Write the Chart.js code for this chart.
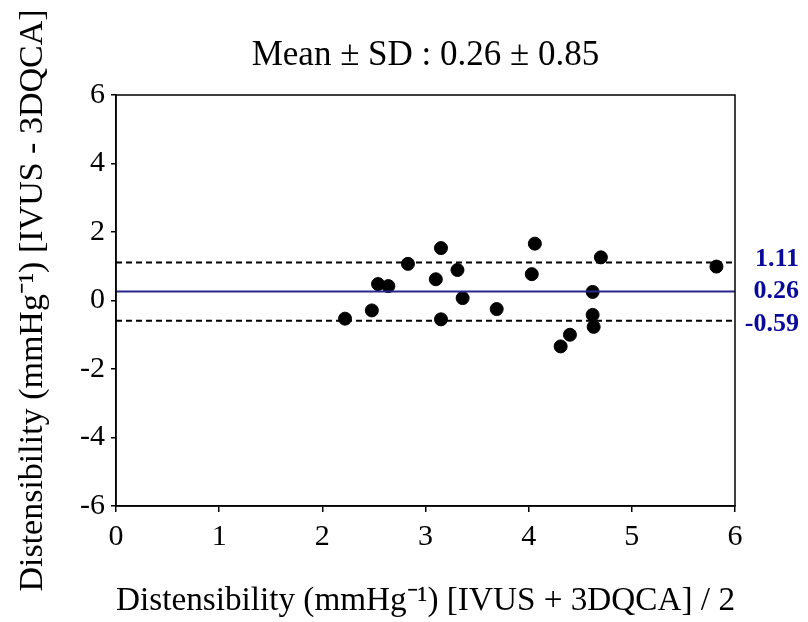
<!DOCTYPE html>
<html lang="en">
<head>
  <meta charset="UTF-8" />
  <title>Bland-Altman distensibility</title>
  <script src="https://cdn.jsdelivr.net/npm/chart.js"></script>
  <style>
    body { margin: 0; background: #fff; }
    .chart-box { width: 808px; height: 622px; }
  </style>
</head>
<body>
  <div class="chart-box"><canvas id="chartBA"></canvas></div>

  <script>
    // mean of the two methods (x) and their difference (y)
    const meanVals = [2.22, 2.48, 2.54, 2.64, 2.83, 3.10, 3.15, 3.15, 3.31, 3.36,
                      3.69, 4.03, 4.06, 4.31, 4.40, 4.62, 4.62, 4.63, 4.70, 5.82];
    const diffVals = [-0.53, -0.29, 0.48, 0.42, 1.07, 0.62, 1.53, -0.55, 0.89, 0.07,
                      -0.25, 0.77, 1.66, -1.34, -1.00, 0.25, -0.42, -0.77, 1.26, 0.99];

    const meanDiff = 0.26;
    const upperLimit = 1.11;
    const lowerLimit = -0.59;
    const limitLabels = ['1.11', '0.26', '-0.59'];

    const xRange = [0, 6];
    const yRange = [-6, 6];

    const serif = '"Liberation Serif", "Times New Roman", serif';

    function hLine(v) {
      return [{ x: xRange[0], y: v }, { x: xRange[1], y: v }];
    }

    // frame on all four sides + the numbers to the right of the lines
    const extras = {
      id: 'extras',
      afterDraw(chart) {
        const { ctx, chartArea: a, scales } = chart;
        ctx.save();
        ctx.strokeStyle = '#000';
        ctx.lineWidth = 1.5;
        ctx.strokeRect(a.left, a.top, a.right - a.left, a.bottom - a.top);

        ctx.font = 'bold 26px ' + serif;
        ctx.fillStyle = '#0a0a9a';
        ctx.textAlign = 'right';
        ctx.textBaseline = 'middle';
        const nudge = [-3, 0, 4];   // labels sit a bit apart in the original
        [upperLimit, meanDiff, lowerLimit].forEach((v, i) => {
          ctx.fillText(limitLabels[i], 799, scales.y.getPixelForValue(v) + nudge[i]);
        });
        ctx.restore();
      }
    };

    new Chart(document.getElementById('chartBA'), {
      type: 'scatter',
      data: {
        datasets: [
          {
            label: 'upper',
            type: 'line',
            data: hLine(upperLimit),
            borderColor: '#000',
            borderWidth: 2,
            borderDash: [6, 4],
            pointRadius: 0
          },
          {
            label: 'lower',
            type: 'line',
            data: hLine(lowerLimit),
            borderColor: '#000',
            borderWidth: 2,
            borderDash: [6, 4],
            pointRadius: 0
          },
          {
            label: 'mean',
            type: 'line',
            data: hLine(meanDiff),
            borderColor: '#26268c',
            borderWidth: 2,
            pointRadius: 0
          },
          {
            label: 'points',
            data: meanVals.map((x, i) => ({ x: x, y: diffVals[i] })),
            backgroundColor: '#000',
            borderColor: '#000',
            pointRadius: 6.5
          }
        ]
      },
      options: {
        responsive: true,
        maintainAspectRatio: false,
        animation: false,
        layout: { padding: { left: 0, right: 73, top: 0, bottom: 0 } },
        plugins: {
          legend: { display: false },
          tooltip: { enabled: false },
          title: {
            display: true,
            fullSize: false,
            text: 'Mean \u00b1 SD : 0.26 \u00b1 0.85',
            color: '#000',
            font: { family: serif, size: 35, weight: 'normal', lineHeight: 1.2 },
            padding: { top: 35, bottom: 18 }
          }
        },
        scales: {
          x: {
            min: xRange[0],
            max: xRange[1],
            afterFit: s => { s.height = 116; },
            ticks: {
              stepSize: 1,
              color: '#000',
              padding: 7,
              font: { family: serif, size: 30 }
            },
            grid: { drawOnChartArea: false, drawTicks: true, tickLength: 6, color: '#000', lineWidth: 1.5 },
            border: { color: '#000', width: 1.5 },
            title: {
              display: true,
              text: 'Distensibility (mmHg\u207b\u00b9) [IVUS + 3DQCA] / 2',
              color: '#000',
              font: { family: serif, size: 34, lineHeight: 1.2 },
              padding: { top: 0, bottom: 1 }
            }
          },
          y: {
            min: yRange[0],
            max: yRange[1],
            afterFit: s => { s.width = 116; },
            ticks: {
              stepSize: 2,
              color: '#000',
              padding: 6,
              font: { family: serif, size: 30 }
            },
            grid: { drawOnChartArea: false, drawTicks: true, tickLength: 5, color: '#000', lineWidth: 1.5 },
            border: { color: '#000', width: 1.5 },
            title: {
              display: true,
              text: 'Distensibility (mmHg\u207b\u00b9) [IVUS - 3DQCA]',
              color: '#000',
              font: { family: serif, size: 34, lineHeight: 1.2 },
              padding: { top: 13, bottom: 0 }
            }
          }
        }
      },
      plugins: [extras]
    });
  </script>
</body>
</html>
